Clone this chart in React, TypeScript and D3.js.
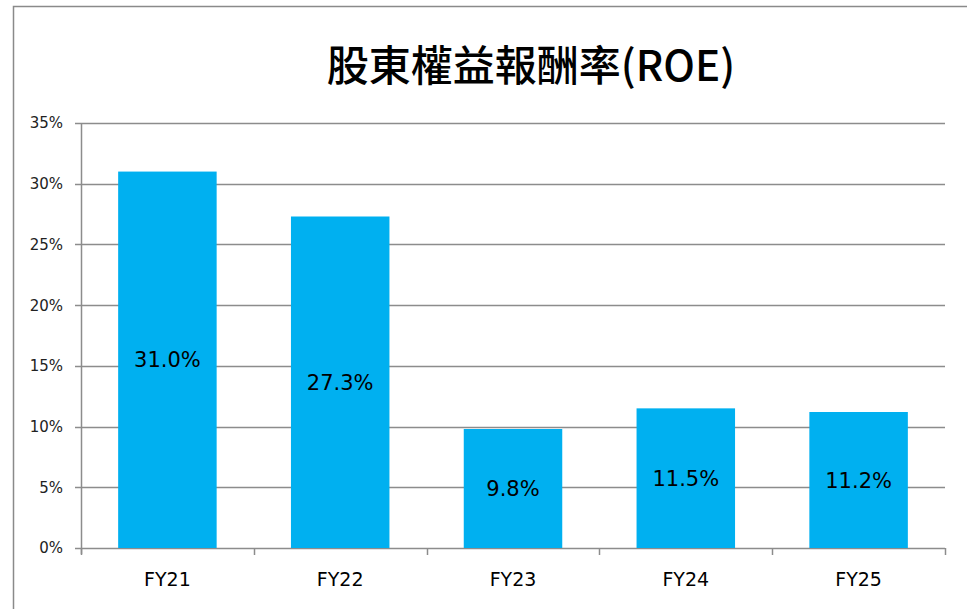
import React, { useEffect, useRef } from 'react'
import * as d3 from 'd3'

const width = 967
const height = 609

const categories = ['FY21', 'FY22', 'FY23', 'FY24', 'FY25']
const roeValues = [31.0, 27.3, 9.8, 11.5, 11.2]
const yTicks = [0, 5, 10, 15, 20, 25, 30, 35]
const titleText = '股東權益報酬率(ROE)'

const plot = { left: 81, right: 945, top: 123, bottom: 548 }
const barColor = '#00B0F0'
const gridColor = '#8c8c8c'
const titleFont = '"Noto Sans CJK TC", "Open Sans", sans-serif'
const labelFont = '"DejaVu Sans", "Open Sans", sans-serif'

function App() {
  const ref = useRef<SVGSVGElement>(null)

  useEffect(() => {
    const svg = d3.select(ref.current)
    svg.selectAll('*').remove()

    const x = d3.scaleBand()
      .domain(categories)
      .range([plot.left, plot.right])
      .paddingInner(0.43)
      .paddingOuter(0.215)

    const y = d3.scaleLinear()
      .domain([0, 35])
      .range([plot.bottom, plot.top])

    // 外枠
    svg.append('rect')
      .attr('x', 13.5)
      .attr('y', 6.5)
      .attr('width', width + 50)
      .attr('height', height + 50)
      .attr('fill', 'white')
      .attr('stroke', '#8a8a8a')
      .attr('stroke-width', 1.5)

    svg.append('text')
      .attr('x', 531)
      .attr('y', 81)
      .attr('text-anchor', 'middle')
      .style('font-family', titleFont)
      .style('font-size', '42px')
      .style('font-weight', 500)
      .attr('fill', '#000')
      .text(titleText)

    // グリッド
    const grid = svg.append('g')
    grid.selectAll('line.grid')
      .data(yTicks)
      .enter()
      .append('line')
      .attr('class', 'grid')
      .attr('x1', plot.left - 6)
      .attr('x2', plot.right)
      .attr('y1', (d) => Math.round(y(d)) + 0.5)
      .attr('y2', (d) => Math.round(y(d)) + 0.5)
      .attr('stroke', gridColor)
      .attr('stroke-width', 1.5)

    grid.selectAll('text.ylabel')
      .data(yTicks)
      .enter()
      .append('text')
      .attr('class', 'ylabel')
      .attr('x', 63)
      .attr('y', (d) => y(d))
      .attr('dy', '0.36em')
      .attr('text-anchor', 'end')
      .style('font-family', labelFont)
      .style('font-size', '15px')
      .attr('fill', '#222')
      .text((d) => d + '%')

    // バー
    svg.selectAll('rect.bar')
      .data(roeValues)
      .enter()
      .append('rect')
      .attr('class', 'bar')
      .attr('x', (_, i) => x(categories[i]) as number)
      .attr('y', (d) => y(d))
      .attr('width', x.bandwidth())
      .attr('height', (d) => y(0) - y(d))
      .attr('fill', barColor)

    svg.selectAll('text.value')
      .data(roeValues)
      .enter()
      .append('text')
      .attr('class', 'value')
      .attr('x', (_, i) => (x(categories[i]) as number) + x.bandwidth() / 2)
      .attr('y', (d) => (y(d) + y(0)) / 2)
      .attr('dy', '0.36em')
      .attr('text-anchor', 'middle')
      .style('font-family', labelFont)
      .style('font-size', '21px')
      .attr('fill', '#000')
      .text((d) => d.toFixed(1) + '%')

    // 軸
    svg.append('line')
      .attr('x1', plot.left + 0.5)
      .attr('x2', plot.left + 0.5)
      .attr('y1', plot.top)
      .attr('y2', plot.bottom + 6)
      .attr('stroke', gridColor)
      .attr('stroke-width', 1.5)

    const step = (plot.right - plot.left) / categories.length
    svg.selectAll('line.xtick')
      .data(d3.range(categories.length + 1))
      .enter()
      .append('line')
      .attr('class', 'xtick')
      .attr('x1', (i) => Math.round(plot.left + i * step) + 0.5)
      .attr('x2', (i) => Math.round(plot.left + i * step) + 0.5)
      .attr('y1', Math.round(y(0)))
      .attr('y2', Math.round(y(0)) + 7)
      .attr('stroke', gridColor)
      .attr('stroke-width', 1.5)

    svg.selectAll('text.xlabel')
      .data(categories)
      .enter()
      .append('text')
      .attr('class', 'xlabel')
      .attr('x', (d) => (x(d) as number) + x.bandwidth() / 2)
      .attr('y', 579)
      .attr('dy', '0.36em')
      .attr('text-anchor', 'middle')
      .style('font-family', labelFont)
      .style('font-size', '19px')
      .attr('fill', '#000')
      .text((d) => d)
  }, [])

  return (
    <svg
      ref={ref}
      width={width}
      height={height}
      style={{ position: 'absolute', left: 0, top: 0, background: 'white' }}
    />
  )
}

export default App
